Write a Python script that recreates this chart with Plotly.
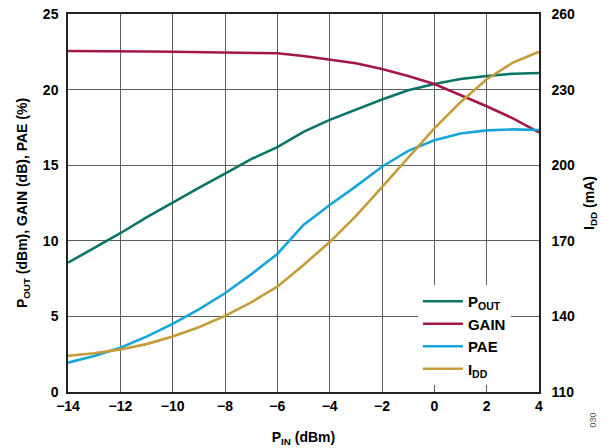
import plotly.graph_objects as go

pin = [-14, -13, -12, -11, -10, -9, -8, -7, -6, -5, -4, -3, -2, -1, 0, 1, 2, 3, 4]
pout = [8.55, 9.5, 10.5, 11.55, 12.55, 13.5, 14.45, 15.4, 16.2, 17.2, 18.0, 18.7, 19.35, 19.95, 20.37, 20.7, 20.9, 21.05, 21.1]
gain = [22.55, 22.55, 22.55, 22.52, 22.5, 22.48, 22.47, 22.45, 22.4, 22.22, 22.0, 21.74, 21.36, 20.9, 20.37, 19.64, 18.9, 18.1, 17.17]
pae = [1.94, 2.38, 2.93, 3.66, 4.5, 5.47, 6.53, 7.78, 9.13, 11.05, 12.37, 13.6, 14.9, 15.95, 16.65, 17.1, 17.3, 17.37, 17.33]
idd = [124.4, 125.4, 126.9, 129.0, 132.0, 135.7, 140.2, 145.6, 151.8, 160.4, 169.5, 179.8, 191.3, 202.9, 214.6, 225.0, 234.1, 240.7, 245.0]

x_ticks = [-14, -12, -10, -8, -6, -4, -2, 0, 2, 4]
x_ticktext = ["\u221214", "\u221212", "\u221210", "\u22128", "\u22126", "\u22124", "\u22122", "0", "2", "4"]
y1_ticks = [0, 5, 10, 15, 20, 25]
y2_ticks = [110, 140, 170, 200, 230, 260]

FONT = "Liberation Sans, Arial, sans-serif"
GRID = "#5e5e5e"

fig = go.Figure()
fig.add_trace(go.Scatter(x=pin, y=pout, name="<b>P<sub>OUT</sub></b>", mode="lines",
                         line=dict(color="#0a7566", width=2.6)))
fig.add_trace(go.Scatter(x=pin, y=gain, name="<b>GAIN</b>", mode="lines",
                         line=dict(color="#a3184a", width=2.6)))
fig.add_trace(go.Scatter(x=pin, y=pae, name="<b>PAE</b>", mode="lines",
                         line=dict(color="#18a5da", width=2.6)))
fig.add_trace(go.Scatter(x=pin, y=idd, name="<b>I<sub>DD</sub></b>", mode="lines", yaxis="y2",
                         line=dict(color="#c49c3a", width=2.6)))

fig.update_layout(
    width=616, height=448,
    margin=dict(l=68, r=77, t=14, b=56),
    paper_bgcolor="white", plot_bgcolor="white",
    font=dict(family=FONT, size=14, color="black"),
    showlegend=True,
    legend=dict(x=0.743, y=0.283, xanchor="left", yanchor="top",
                bgcolor="white", borderwidth=0,
                font=dict(family=FONT, size=15, color="black"),
                tracegroupgap=0, itemwidth=40),
    xaxis=dict(range=[-14, 4], tickvals=x_ticks, ticktext=x_ticktext,
               automargin=False,
               showgrid=True, gridcolor=GRID, gridwidth=1.3,
               showline=True, linecolor="#222", linewidth=1.5, mirror=True,
               ticks="", zeroline=False,
               tickfont=dict(family=FONT, size=14, color="black", weight="bold"),
               title=dict(text="<b>P<sub>IN</sub> (dBm)</b>", standoff=20,
                          font=dict(family=FONT, size=14, color="black"))),
    yaxis=dict(range=[0, 25], tickvals=y1_ticks,
               automargin=False, ticklabelstandoff=5,
               showgrid=True, gridcolor=GRID, gridwidth=1.3,
               showline=True, linecolor="#222", linewidth=1.5, mirror=True,
               ticks="", zeroline=False,
               tickfont=dict(family=FONT, size=14, color="black", weight="bold"),
               title=dict(text="<b>P<sub>OUT</sub> (dBm), GAIN (dB), PAE (%)</b>", standoff=12,
                          font=dict(family=FONT, size=14, color="black"))),
    yaxis2=dict(range=[110, 260], tickvals=y2_ticks, overlaying="y", side="right",
                automargin=False, ticklabelstandoff=8,
                showgrid=False, showline=True, linecolor="#222", linewidth=1.5,
                ticks="", zeroline=False,
                tickfont=dict(family=FONT, size=14, color="black", weight="bold"),
                title=dict(text="<b>I<sub>DD</sub> (mA)</b>", standoff=10,
                           font=dict(family=FONT, size=14, color="black"))),
)

fig.add_annotation(text="030", xref="paper", yref="paper", x=1.13, y=-0.10,
                   showarrow=False, textangle=-90,
                   font=dict(family=FONT, size=9, color="#555"))

# remove the browser's default 8px body margin so the figure fills the window exactly
fig.write_html("out.html", config={"displayModeBar": False},
               post_script="document.body.style.margin='0px';")
